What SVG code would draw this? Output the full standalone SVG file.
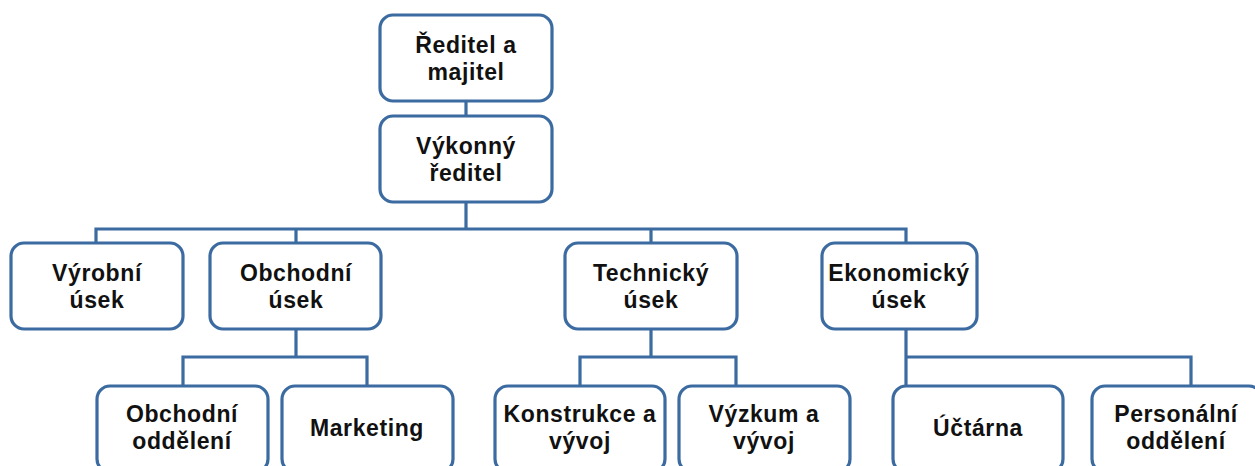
<svg xmlns="http://www.w3.org/2000/svg" width="1255" height="466" viewBox="0 0 1255 466">
<style>
.box{fill:#ffffff;stroke:#3b6ba0;stroke-width:3.2}
.conn{fill:none;stroke:#3b6ba0;stroke-width:3.2;stroke-linejoin:miter}
text{font-family:"Liberation Sans",Arial,sans-serif;font-weight:bold;font-size:23px;letter-spacing:0.6px;fill:#111111;text-anchor:middle}
</style>
<rect width="1255" height="466" fill="#ffffff"/>
<g id="connectors">
<path class="conn" d="M466,101 V116"/>
<path class="conn" d="M466,202 V229 M96,243 V229 H906 V243 M296,229 V243 M651,229 V243"/>
<path class="conn" d="M296,329 V357 M183,386 V357 H367 V386"/>
<path class="conn" d="M651,329 V357 M580,386 V357 H736 V386"/>
<path class="conn" d="M906,329 V357 H1191 V386 M906,357 V386"/>
</g>
<g id="n-reditel">
<rect class="box" x="380" y="15" width="172" height="86" rx="13"/>
<text x="466" y="53">Ředitel a</text><text x="466" y="80">majitel</text>
</g>
<g id="n-vykonny">
<rect class="box" x="380" y="116" width="172" height="86" rx="13"/>
<text x="466" y="154">Výkonný</text><text x="466" y="181">ředitel</text>
</g>
<g id="n-vyrobni">
<rect class="box" x="11" y="243" width="172" height="86" rx="13"/>
<text x="97" y="281">Výrobní</text><text x="97" y="308">úsek</text>
</g>
<g id="n-obchodni">
<rect class="box" x="210" y="243" width="171" height="86" rx="13"/>
<text x="296" y="281">Obchodní</text><text x="296" y="308">úsek</text>
</g>
<g id="n-technicky">
<rect class="box" x="565" y="243" width="172" height="86" rx="13"/>
<text x="651" y="281">Technický</text><text x="651" y="308">úsek</text>
</g>
<g id="n-ekonomicky">
<rect class="box" x="822" y="243" width="155" height="86" rx="13"/>
<text x="899" y="281">Ekonomický</text><text x="899" y="308">úsek</text>
</g>
<g id="n-obch-odd">
<rect class="box" x="97" y="386" width="171" height="86" rx="13"/>
<text x="182" y="422">Obchodní</text><text x="182" y="449">oddělení</text>
</g>
<g id="n-marketing">
<rect class="box" x="282" y="386" width="171" height="86" rx="13"/>
<text x="367" y="436">Marketing</text>
</g>
<g id="n-konstrukce">
<rect class="box" x="495" y="386" width="170" height="86" rx="13"/>
<text x="580" y="422">Konstrukce a</text><text x="580" y="449">vývoj</text>
</g>
<g id="n-vyzkum">
<rect class="box" x="679" y="386" width="171" height="86" rx="13"/>
<text x="764" y="422">Výzkum a</text><text x="764" y="449">vývoj</text>
</g>
<g id="n-uctarna">
<rect class="box" x="893" y="386" width="170" height="86" rx="13"/>
<text x="978" y="436">Účtárna</text>
</g>
<g id="n-personalni">
<rect class="box" x="1092" y="386" width="170" height="86" rx="13"/>
<text x="1176" y="422">Personální</text><text x="1176" y="449">oddělení</text>
</g>
</svg>
